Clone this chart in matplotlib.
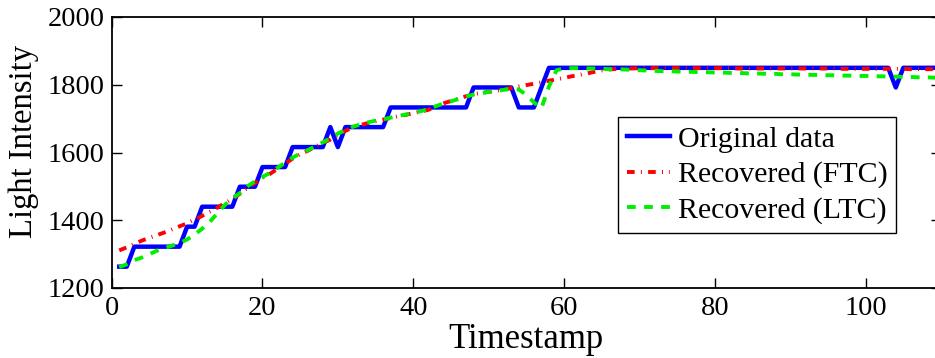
import matplotlib
matplotlib.use("Agg")
import matplotlib.pyplot as plt

plt.rcParams['font.family'] = ['Liberation Serif', 'DejaVu Serif']
plt.rcParams['lines.scale_dashes'] = False

timestamps = list(range(1, 111))

original = ([1263] * 2 + [1322] * 7 + [1381] * 2 + [1440] * 5 + [1499] * 3
            + [1557] * 4 + [1616] * 5 + [1675, 1616] + [1675] * 6 + [1733] * 11
            + [1792] * 6 + [1733] * 3 + [1792] + [1850] * 46 + [1792]
            + [1850] * 6)

ftc = [1311, 1320, 1330, 1340, 1348, 1356, 1364, 1373, 1382, 1391,
       1402, 1413, 1425, 1437, 1450, 1463, 1478, 1495, 1510, 1525,
       1537, 1552, 1567, 1582, 1595, 1605, 1617, 1628, 1638, 1652,
       1664, 1674, 1681, 1687, 1692, 1697, 1702, 1707, 1711, 1716,
       1721, 1726, 1735, 1745, 1752, 1759, 1766, 1772, 1776, 1779,
       1782, 1786, 1790, 1795, 1799, 1803, 1807, 1812, 1816, 1820,
       1825, 1829, 1833, 1838, 1842, 1845, 1847, 1848, 1848, 1849,
       1849, 1849, 1849, 1849, 1849, 1849, 1849, 1849, 1849, 1849,
       1849, 1849, 1848, 1848, 1848, 1848, 1848, 1848, 1848, 1848,
       1848, 1848, 1848, 1848, 1848, 1848, 1847, 1847, 1847, 1847,
       1847, 1847, 1847, 1847, 1847, 1846, 1846, 1846, 1846, 1846]

ltc = [1262, 1270, 1282, 1290, 1300, 1310, 1318, 1325, 1333, 1343,
       1358, 1375, 1395, 1420, 1445, 1465, 1480, 1500, 1515, 1528,
       1540, 1555, 1570, 1585, 1597, 1607, 1618, 1630, 1642, 1656,
       1666, 1676, 1683, 1689, 1694, 1698, 1703, 1708, 1712, 1717,
       1722, 1728, 1737, 1744, 1751, 1758, 1765, 1771, 1775, 1779,
       1782, 1785, 1788, 1786, 1770, 1748, 1731, 1795, 1843, 1848,
       1849, 1849, 1848, 1848, 1847, 1846, 1846, 1845, 1844, 1843,
       1842, 1841, 1840, 1840, 1839, 1838, 1838, 1837, 1837, 1836,
       1836, 1835, 1835, 1834, 1833, 1833, 1832, 1832, 1831, 1831,
       1830, 1830, 1829, 1829, 1828, 1828, 1827, 1827, 1826, 1826,
       1825, 1825, 1824, 1824, 1823, 1823, 1822, 1822, 1821, 1821]

fig = plt.figure(figsize=(9.35, 3.58), dpi=100)
# axes runs a little past the right edge of the figure
ax = fig.add_axes([111.7 / 935, 70 / 358, (941 - 111.7) / 935, 271 / 358])

ax.plot(timestamps, original, color='#0000ff', lw=3.2, label='Original data')
ax.plot(timestamps, ftc, color='#ff0000', lw=2.8, dashes=(5.5, 4.5, 0.7, 4.5),
        dash_capstyle='butt', label='Recovered (FTC)')
ax.plot(timestamps, ltc, color='#00ee00', lw=2.8, dashes=(6.3, 6.0),
        dash_capstyle='butt', label='Recovered (LTC)')

ax.set_xlim(0, 110)
ax.set_ylim(1200, 2000)
ax.set_xticks([0, 20, 40, 60, 80, 100])
ax.set_yticks([1200, 1400, 1600, 1800, 2000])
ax.tick_params(direction='in', length=7, width=1, labelsize=20.5,
               top=True, right=True)
ax.tick_params(axis='x', pad=6)
ax.tick_params(axis='y', pad=5)
for s in ax.spines.values():
    s.set_linewidth(1.3)

ax.set_xlabel('Timestamp', fontsize=25, labelpad=1)
ax.set_ylabel('Light Intensity', fontsize=23.5)
ax.yaxis.set_label_coords(-0.088, 0.54)

leg = ax.legend(loc='upper left', bbox_to_anchor=(618 / 935, 1 - 117 / 358),
                bbox_transform=fig.transFigure, fontsize=21.5, frameon=True,
                fancybox=False, edgecolor='black', framealpha=1,
                handlelength=1.45, handletextpad=0.25, labelspacing=0.28,
                borderpad=0.3, borderaxespad=0)
leg.get_frame().set_linewidth(1.0)

fig.savefig('out.png', dpi=100)
